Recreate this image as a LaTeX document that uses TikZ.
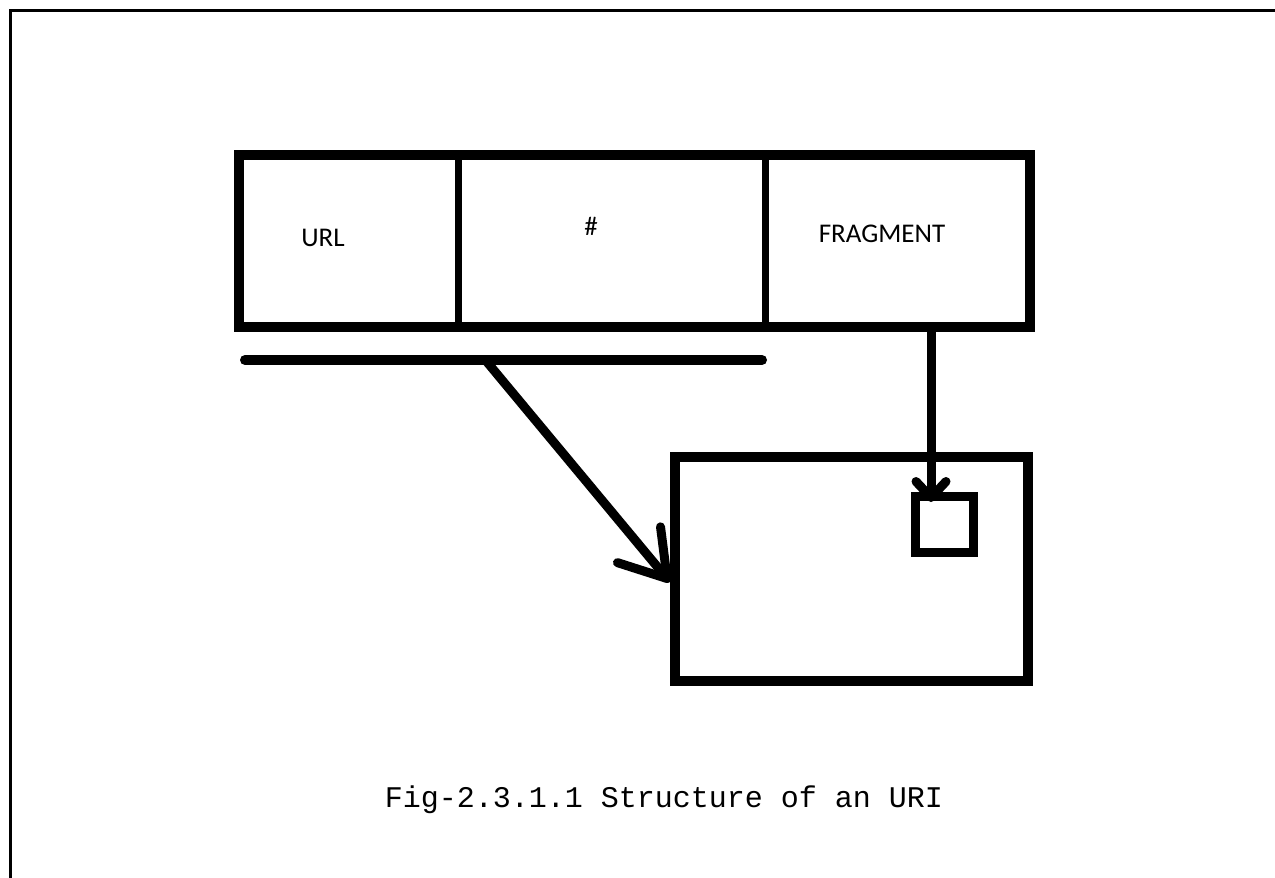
\documentclass[tikz,border=0pt]{standalone}
\usepackage{fontspec}
\setmainfont{Carlito}
\newfontfamily\capfont{Liberation Mono}
\usetikzlibrary{positioning,arrows.meta,calc}

\begin{document}
\begin{tikzpicture}[x=0.5pt,y=-0.5pt,
    every node/.style={font=\fontsize{13.5pt}{16pt}\selectfont,text=black},
    cell/.style={draw,line width=3.5pt,outer sep=0pt,inner sep=0pt,
                 minimum height=86pt},
    frame/.style={draw,line width=5pt,line join=miter},
    box/.style={draw,line width=5pt,inner sep=0pt},
    stroke/.style={line width=5pt,line cap=round},
    barb/.style={line width=4.5pt,
                 -{Straight Barb[length=22pt,width=28pt,round]}},
    smallbarb/.style={line width=4.5pt,
                 -{Straight Barb[length=8pt,width=15pt,round]}},
  ]
  \useasboundingbox (0,0) rectangle (1275,878);
  \draw[line width=1.5pt] (10,878) -- (10,10) -- (1275,10);

  % the three parts of the address
  \node[cell,minimum width=109.5pt] (cellurl) at (348.5,241) {};
  \node[cell,minimum width=153.5pt,right=0pt of cellurl] (cellhash) {};
  \node[cell,minimum width=132.5pt,right=0pt of cellhash] (cellfrag) {};
  \draw[frame] (cellurl.north west) rectangle (cellfrag.south east);
  \node (urltext) at (323,238) {URL};
  \node (hashtext) at (591,226) {\#};
  \node (fragtext) at (882,234) {FRAGMENT};

  % underline of URL and #
  \draw[stroke] (245,360) -- (762,360);
  \coordinate (barfork) at (487,362);

  % the page and the spot in it
  \node[box,minimum width=176.5pt,minimum height=112pt] (bigbox) at (851.5,569) {};
  \node[box,line width=4.5pt,minimum width=29pt,minimum height=28pt] (minibox) at (944.5,524.5) {};

  \draw[barb] (barfork) -- ($(bigbox.west)+(0,13)$);
  \coordinate (fragdrop) at ($(cellfrag.south)+(33.5,0)$);
  \draw[smallbarb,shorten >=-5pt] (fragdrop) -- (fragdrop |- minibox.north);

  \node[font=\capfont\fontsize{15pt}{18pt}\selectfont] (caption) at (664,800)
    {Fig-2.3.1.1 Structure of an URI};
\end{tikzpicture}
\end{document}
